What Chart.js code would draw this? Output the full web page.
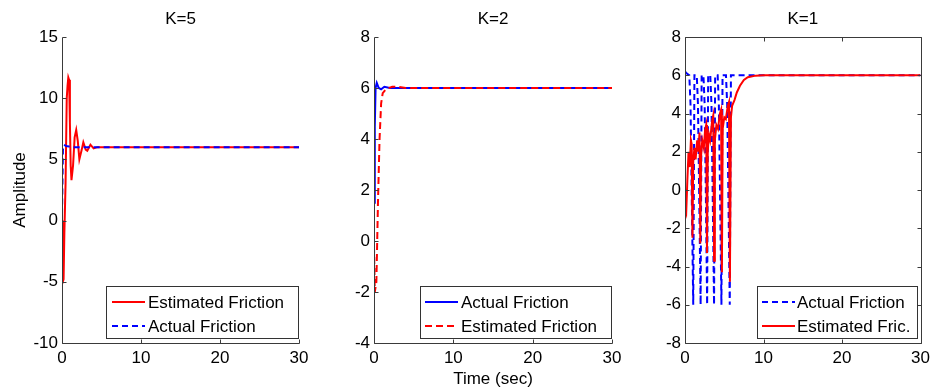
<!DOCTYPE html>
<html>
<head>
<meta charset="utf-8">
<script src="https://cdn.jsdelivr.net/npm/chart.js@4/dist/chart.umd.min.js"></script>
<style>
  html, body { margin: 0; padding: 0; background: #ffffff; }
  #wrap { position: relative; width: 935px; height: 388px; background: #ffffff; }
  #wrap canvas { position: absolute; left: 0; top: 0; }
</style>
</head>
<body>
<div id="wrap">
  <canvas id="c1" width="935" height="388"></canvas>
  <canvas id="c2" width="935" height="388"></canvas>
  <canvas id="c3" width="935" height="388"></canvas>
</div>
<script>
// ---------- Data ----------
const xTicks = [0, 10, 20, 30];

// K=5
const k5Title = "K=5";
const k5EstTime   = [0, 0.1, 0.2, 0.3, 0.45, 0.6, 0.7, 0.8, 0.9, 1.0, 1.1, 1.2, 1.4, 1.6, 1.8, 2.0, 2.2, 2.5, 2.7, 3.0, 3.2, 3.6, 4.0, 4.5, 30];
const k5Estimated = [0, -5.0, -4.8, -1.0, 3.0, 10.0, 11.0, 11.7, 11.5, 8.0, 4.5, 3.3, 4.5, 6.8, 7.4, 6.5, 5.0, 5.8, 6.4, 5.8, 5.7, 6.2, 5.9, 6.0, 6.0];
const k5ActTime   = [0, 0.12, 0.25, 0.5, 0.9, 1.3, 30];
const k5Actual    = [0.5, 5.8, 6.2, 6.1, 6.05, 6.0, 6.0];
const k5YTicks    = [-10, -5, 0, 5, 10, 15];

// K=2
const k2Title = "K=2";
const k2ActTime   = [0, 0.1, 0.2, 0.35, 0.6, 0.9, 1.3, 2.0, 30];
const k2Actual    = [1.5, 4.5, 6.0, 6.2, 6.0, 5.95, 6.05, 6.0, 6.0];
const k2EstTime   = [0, 0.1, 0.3, 0.5, 0.7, 0.9, 1.1, 1.5, 2.3, 3.0, 4.0, 30];
const k2Estimated = [-0.2, -2.0, -1.6, 1.5, 4.0, 5.4, 5.8, 5.95, 6.05, 6.05, 6.0, 6.0];
const k2YTicks    = [-4, -2, 0, 2, 4, 6, 8];

// K=1
const k1Title = "K=1";
const k1ActTime = [0, 0.2, 0.55, 0.7, 0.85, 1.05, 1.2, 1.5, 1.65, 1.8, 1.99, 2.12, 2.35, 2.5, 2.65, 2.82, 2.95, 3.22, 3.37, 3.52, 3.7, 3.84, 4.16, 4.31, 4.46, 4.64, 4.78, 5.22, 5.37, 5.52, 5.7, 5.85, 30];
const k1Actual  = [6.2, 6.1, 6.0, 4.5, 0, -6, 6.0, 6.0, 4.5, 0, -6, 6.0, 6.0, 4.5, 0, -6, 6.0, 6.0, 4.5, 0, -6, 6.0, 6.0, 4.5, 0, -6, 6.0, 6.0, 4.5, 0, -6, 6.0, 6.0];
const k1EstTime = [0, 0.15, 0.3, 0.45, 0.6, 0.75, 0.85, 0.95, 1.05, 1.2, 1.35, 1.55, 1.7, 1.85, 1.95, 2.05, 2.2, 2.4, 2.55, 2.7, 2.8, 2.9, 3.05, 3.2, 3.45, 3.6, 3.7, 3.8, 4.0, 4.2, 4.45, 4.6, 4.7, 4.8, 5.0, 5.2, 5.45, 5.6, 5.72, 5.85, 6.0, 6.3, 6.6, 7.0, 7.5, 8.0, 9.0, 10, 30];
const k1Estimated = [-1.0, -1.2, 0.5, 2.0, 1.2, 2.6, 2.4, -2.5, 1.5, 2.2, 1.6, 2.6, 2.0, 3.0, -2.8, 1.8, 2.6, 2.2, 3.1, 3.4, -3.3, 2.0, 2.9, 2.6, 3.6, 3.9, -3.7, 2.6, 3.4, 3.2, 4.0, 4.2, -4.3, 3.2, 3.8, 3.7, 4.4, 4.6, -4.8, 3.8, 4.4, 4.7, 5.1, 5.45, 5.75, 5.9, 5.98, 6.0, 6.0];
const k1YTicks  = [-8, -6, -4, -2, 0, 2, 4, 6, 8];

const xLabel = "Time (sec)";
const yLabel = "Amplitude";

// ---------- Helpers ----------
const FONT = '"Liberation Sans", Arial, Helvetica, sans-serif';
const FS = 17;
const RED = '#ff0000', BLUE = '#0000ff', AXIS = '#3a3a3a';

function pts(t, v) { return t.map((x, i) => ({ x: x, y: v[i] })); }

const decor = {
  id: 'decor',
  afterDraw(chart, args, o) {
    const ctx = chart.ctx;
    const a = chart.chartArea;
    const xs = chart.scales.x, ys = chart.scales.y;
    ctx.save();
    ctx.strokeStyle = AXIS;
    ctx.lineWidth = 1;
    ctx.beginPath();
    const L = Math.round(a.left) + 0.5, R = Math.round(a.right) + 0.5;
    const T = Math.round(a.top) + 0.5, B = Math.round(a.bottom) + 0.5;
    ctx.moveTo(L, T); ctx.lineTo(L, B); ctx.lineTo(R, B);
    if (o.box) { ctx.lineTo(R, T); ctx.lineTo(L, T); }
    const tl = 4;
    xs.ticks.forEach(tk => {
      const px = Math.round(xs.getPixelForValue(tk.value)) + 0.5;
      ctx.moveTo(px, B); ctx.lineTo(px, B - tl);
      if (o.box) { ctx.moveTo(px, T); ctx.lineTo(px, T + tl); }
    });
    ys.ticks.forEach(tk => {
      const py = Math.round(ys.getPixelForValue(tk.value)) + 0.5;
      ctx.moveTo(L, py); ctx.lineTo(L + tl, py);
      if (o.box) { ctx.moveTo(R, py); ctx.lineTo(R - tl, py); }
    });
    ctx.stroke();

    ctx.fillStyle = '#000';
    ctx.font = FS + 'px ' + FONT;
    ctx.textAlign = 'center';
    ctx.textBaseline = 'alphabetic';
    ctx.fillText(o.title, (a.left + a.right) / 2, 24);
    if (o.xlabel) ctx.fillText(o.xlabel, (a.left + a.right) / 2, 384);
    if (o.ylabel) {
      ctx.save();
      ctx.translate(25, (a.top + a.bottom) / 2);
      ctx.rotate(-Math.PI / 2);
      ctx.fillText(o.ylabel, 0, 0);
      ctx.restore();
    }

    // legend
    const lg = o.legend;
    ctx.fillStyle = '#fff';
    ctx.fillRect(lg.x1, lg.y1, lg.x2 - lg.x1, lg.y2 - lg.y1);
    ctx.strokeStyle = '#333';
    ctx.lineWidth = 1;
    ctx.strokeRect(lg.x1 + 0.5, lg.y1 + 0.5, lg.x2 - lg.x1, lg.y2 - lg.y1);
    lg.items.forEach((it, i) => {
      const y = lg.rowY[i];
      ctx.beginPath();
      ctx.strokeStyle = it.color;
      ctx.lineWidth = 2;
      ctx.setLineDash(it.dash || []);
      ctx.moveTo(lg.lx1, y); ctx.lineTo(lg.lx2, y);
      ctx.stroke();
      ctx.setLineDash([]);
      ctx.fillStyle = '#000';
      ctx.textAlign = 'left';
      ctx.textBaseline = 'middle';
      ctx.fillText(it.label, lg.tx, y + 1);
    });
    ctx.restore();
  }
};

function makeChart(id, datasets, yTicks, area, deco) {
  const yMin = yTicks[0], yMax = yTicks[yTicks.length - 1];
  const yStep = yTicks[1] - yTicks[0];
  const yW = 50, xH = 30;
  return new Chart(document.getElementById(id), {
    type: 'line',
    data: { datasets: datasets },
    options: {
      responsive: false,
      animation: false,
      events: [],
      layout: { padding: { left: area.left - yW, right: 935 - area.right, top: area.top, bottom: 388 - area.bottom - xH } },
      plugins: { legend: { display: false }, tooltip: { enabled: false }, title: { display: false }, decor: deco },
      elements: { point: { radius: 0 }, line: { tension: 0, borderWidth: 2 } },
      scales: {
        x: {
          type: 'linear', min: xTicks[0], max: xTicks[xTicks.length - 1],
          grid: { display: false, drawTicks: false }, border: { display: false },
          ticks: { stepSize: 10, padding: 5, color: '#000', font: { family: FONT, size: FS }, maxRotation: 0 },
          afterFit: s => { s.height = xH; }
        },
        y: {
          type: 'linear', min: yMin, max: yMax,
          grid: { display: false, drawTicks: false }, border: { display: false },
          ticks: { stepSize: yStep, padding: 4, color: '#000', font: { family: FONT, size: FS } },
          afterFit: s => { s.width = yW; }
        }
      }
    },
    plugins: [decor]
  });
}

// K=5 : blue dashed drawn on top of red
makeChart('c1', [
  { label: 'Actual Friction', data: pts(k5ActTime, k5Actual), borderColor: BLUE, borderDash: [6, 4], borderWidth: 2 },
  { label: 'Estimated Friction', data: pts(k5EstTime, k5Estimated), borderColor: RED, borderWidth: 2 }
], k5YTicks, { left: 62, right: 299, top: 37, bottom: 343 }, {
  title: k5Title, ylabel: yLabel, box: false,
  legend: { x1: 106, y1: 286, x2: 298, y2: 338, lx1: 112, lx2: 145, tx: 148, rowY: [302, 326],
    items: [ { label: 'Estimated Friction', color: RED }, { label: 'Actual Friction', color: BLUE, dash: [6, 4] } ] }
});

// K=2 : red dashed on top of blue solid
makeChart('c2', [
  { label: 'Estimated Friction', data: pts(k2EstTime, k2Estimated), borderColor: RED, borderDash: [7, 4], borderWidth: 2 },
  { label: 'Actual Friction', data: pts(k2ActTime, k2Actual), borderColor: BLUE, borderWidth: 2 }
], k2YTicks, { left: 374, right: 612, top: 37, bottom: 343 }, {
  title: k2Title, xlabel: xLabel, box: false,
  legend: { x1: 420, y1: 286, x2: 611, y2: 338, lx1: 425, lx2: 458, tx: 461, rowY: [302, 326],
    items: [ { label: 'Actual Friction', color: BLUE }, { label: 'Estimated Friction', color: RED, dash: [7, 4] } ] }
});

// K=1 : red solid on top of blue dashed
makeChart('c3', [
  { label: 'Estimated Fric.', data: pts(k1EstTime, k1Estimated), borderColor: RED, borderWidth: 2 },
  { label: 'Actual Friction', data: pts(k1ActTime, k1Actual), borderColor: BLUE, borderDash: [6, 4], borderWidth: 2 }
], k1YTicks, { left: 685, right: 922, top: 37, bottom: 343 }, {
  title: k1Title, box: true,
  legend: { x1: 757, y1: 286, x2: 917, y2: 338, lx1: 762, lx2: 795, tx: 797, rowY: [302, 326],
    items: [ { label: 'Actual Friction', color: BLUE, dash: [6, 4] }, { label: 'Estimated Fric.', color: RED } ] }
});
</script>
</body>
</html>
